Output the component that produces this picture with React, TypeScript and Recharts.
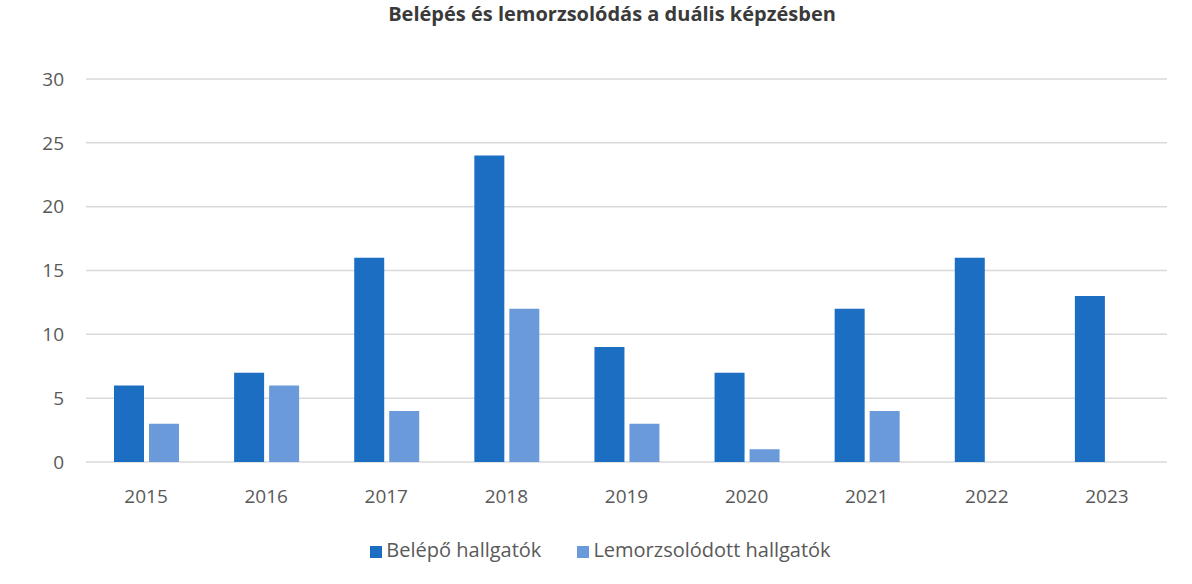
import React from "react";
import { BarChart, Bar, XAxis, YAxis, CartesianGrid, Legend } from "recharts";

// years on the x axis
const years = ["2015", "2016", "2017", "2018", "2019", "2020", "2021", "2022", "2023"];
// Belépő hallgatók
const entered = [6, 7, 16, 24, 9, 7, 12, 16, 13];
// Lemorzsolódott hallgatók (no bar for 2022, 2023)
const dropped = [3, 6, 4, 12, 3, 1, 4, 0, 0];
const yTicks = [0, 5, 10, 15, 20, 25, 30];

const data = years.map((year, i) => ({
  year,
  entered: entered[i],
  dropped: dropped[i],
}));

const font = "'Open Sans', 'Liberation Sans', sans-serif";

const App = () => {
  return (
    <div style={{ position: "absolute", left: 0, top: 0, width: 1192, height: 584, background: "#fff", overflow: "hidden", fontFamily: font }}>
      <div
        style={{
          position: "absolute",
          top: 1,
          left: 0,
          width: 1224,
          textAlign: "center",
          fontWeight: 700,
          fontSize: 20,
          lineHeight: "26px",
          color: "#3a3a3a",
        }}
      >
        Belépés és lemorzsolódás a duális képzésben
      </div>
      <BarChart
        width={1192}
        height={584}
        data={data}
        margin={{ top: 79, right: 25, left: 26, bottom: 55 }}
        barCategoryGap={28}
        barGap={5}
      >
        <CartesianGrid vertical={false} stroke="#d9d9d9" strokeWidth={1.5} />
        <XAxis
          dataKey="year"
          axisLine={false}
          tickLine={false}
          tickMargin={22}
          height={40}
          tick={{ fill: "#595959", fontSize: 19, fontFamily: font }}
        />
        <YAxis
          domain={[0, 30]}
          ticks={yTicks}
          axisLine={false}
          tickLine={false}
          width={60}
          tickMargin={16}
          tick={{ fill: "#595959", fontSize: 19, fontFamily: font }}
        />
        <Legend
          verticalAlign="bottom"
          iconType="square"
          iconSize={12}
          wrapperStyle={{ top: 536, left: 48, fontSize: 20, fontFamily: font }}
          formatter={(value) => <span style={{ color: "#595959", marginRight: 26 }}>{value}</span>}
        />
        <Bar dataKey="entered" name="Belépő hallgatók" fill="#1B6EC2" isAnimationActive={false} />
        <Bar dataKey="dropped" name="Lemorzsolódott hallgatók" fill="#6B9ADB" isAnimationActive={false} />
      </BarChart>
    </div>
  );
};

export default App;
